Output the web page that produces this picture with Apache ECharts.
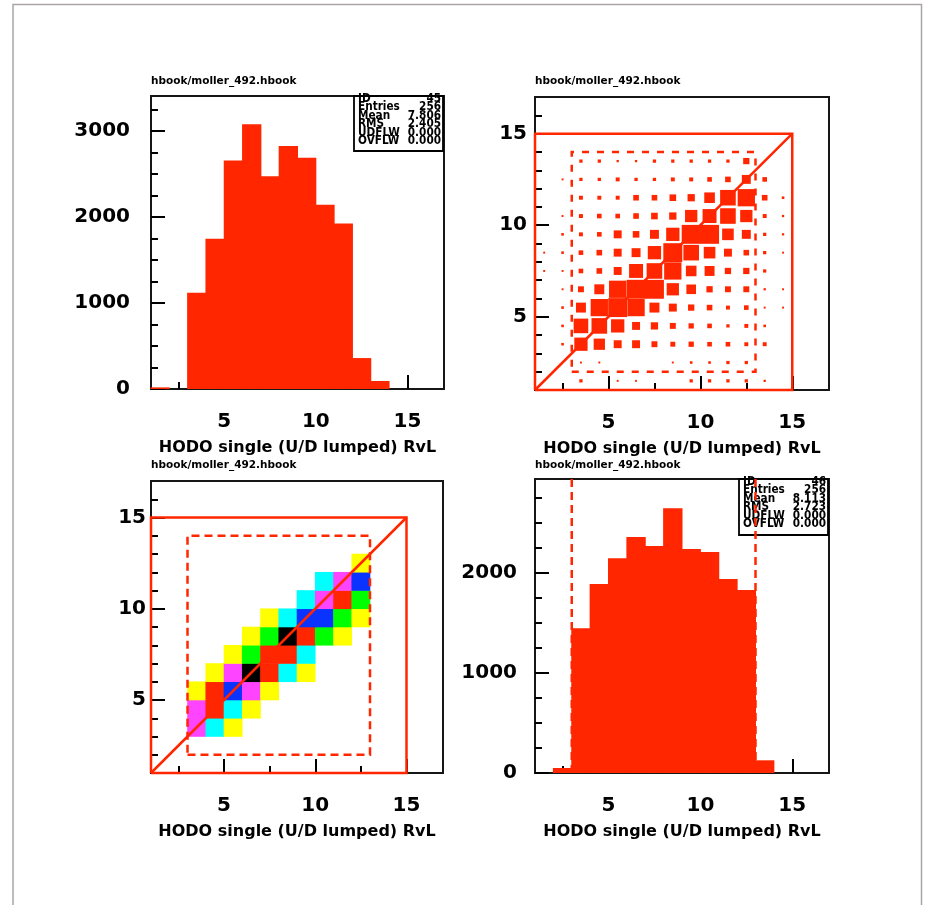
<!DOCTYPE html>
<html>
<head>
<meta charset="utf-8">
<title>HODO single (U/D lumped) RvL</title>
<script src="https://cdn.jsdelivr.net/npm/echarts@6/dist/echarts.min.js"></script>
<style>
  html, body { margin: 0; padding: 0; background: #ffffff; }
  #c { width: 925px; height: 905px; }
</style>
</head>
<body>
<div id="c"></div>
<script>
// ---------------- data ----------------
const fileTitle = 'hbook/moller_492.hbook';
const axisTitle = 'HODO single (U/D lumped) RvL';

// 1D histogram ID 45: bin lower edges (bin width 1) and contents
const h45Lo     = [1, 3, 4, 5, 6, 7, 8, 9, 10, 11, 12, 13];
const h45Counts = [19, 1120, 1748, 2659, 3081, 2477, 2829, 2690, 2143, 1926, 360, 93];
// 1D histogram ID 46
const h46Lo     = [2, 3, 4, 5, 6, 7, 8, 9, 10, 11, 12, 13];
const h46Counts = [50, 1447, 1890, 2147, 2360, 2270, 2647, 2240, 2210, 1940, 1830, 127];
const binWidth = 1;

// statistics boxes
const stats45 = [['ID', '45'], ['Entries', '256'], ['Mean', '7.806'], ['RMS', '2.405'], ['UDFLW', '0.000'], ['OVFLW', '0.000']];
const stats46 = [['ID', '46'], ['Entries', '256'], ['Mean', '8.113'], ['RMS', '2.723'], ['UDFLW', '0.000'], ['OVFLW', '0.000']];

// 2D histogram (box display): one row per y bin (1..13), columns are x bins 1..14
const boxRows = [
  [0, 0, 136, 0, 68, 68, 0, 0, 136, 136, 136, 136, 85, 0],
  [0, 0, 68, 68, 0, 0, 0, 68, 102, 102, 136, 136, 0, 0],
  [0, 102, 646, 544, 374, 374, 272, 221, 238, 204, 204, 170, 170, 0],
  [0, 102, 714, 765, 646, 374, 340, 272, 238, 204, 136, 170, 102, 0],
  [0, 102, 476, 850, 935, 850, 476, 374, 289, 255, 170, 204, 68, 68],
  [0, 68, 272, 476, 850, 935, 935, 595, 459, 289, 272, 272, 85, 68],
  [68, 68, 204, 255, 374, 680, 765, 850, 510, 476, 289, 289, 136, 0],
  [68, 102, 204, 255, 374, 425, 646, 935, 765, 561, 374, 255, 136, 68],
  [0, 102, 170, 204, 374, 306, 425, 646, 935, 935, 561, 425, 136, 85],
  [0, 68, 170, 204, 204, 255, 306, 340, 595, 680, 765, 595, 170, 85],
  [0, 0, 170, 170, 170, 255, 255, 306, 340, 510, 765, 850, 255, 102],
  [0, 68, 136, 136, 170, 136, 136, 170, 170, 204, 255, 425, 204, 0],
  [0, 0, 136, 136, 85, 85, 136, 136, 136, 136, 136, 289, 0, 0]
];
const boxMax = 935;

// 2D histogram (colour display): [x bin, y bin, contents]
const colCells = [
  [3, 3, 730], [4, 3, 540], [5, 3, 410],
  [3, 4, 750], [4, 4, 900], [5, 4, 570], [6, 4, 380],
  [3, 5, 420], [4, 5, 890], [5, 5, 830], [6, 5, 760], [7, 5, 430],
  [4, 6, 420], [5, 6, 740], [6, 6, 950], [7, 6, 910], [8, 6, 560], [9, 6, 400],
  [5, 7, 390], [6, 7, 650], [7, 7, 880], [8, 7, 900], [9, 7, 530],
  [6, 8, 410], [7, 8, 640], [8, 8, 945], [9, 8, 885], [10, 8, 630], [11, 8, 380],
  [7, 9, 400], [8, 9, 580], [9, 9, 840], [10, 9, 850], [11, 9, 620], [12, 9, 410],
  [9, 10, 560], [10, 10, 710], [11, 10, 880], [12, 10, 640],
  [10, 11, 530], [11, 11, 760], [12, 11, 820],
  [12, 12, 420]
];
const colLevels = [300, 500, 600, 680, 780, 860, 930];
const colColours = ['#ffff00', '#00ffff', '#00ff00', '#ff44ff', '#0a33ff', '#ff2600', '#000000'];

// cut windows drawn on the 2D plots and the projection
const acceptWindow = [1, 15];
const fiducialX = [3, 13];
const fiducialY = [2, 14];

// axis ranges and tick values
const xRange = [1, 17];
const yRange2D = [1, 17];
const yMax45 = 3410;
const yMax46 = 2940;
const xMajor = [5, 10, 15];
const xMinor = [2.5, 7.5, 12.5];
const y2DMajor = [5, 10, 15];
const y2DMinor = [2, 3, 4, 6, 7, 8, 9, 11, 12, 13, 14, 16];
const y45Major = [0, 1000, 2000, 3000];
const y45Minor = [250, 500, 750, 1250, 1500, 1750, 2250, 2500, 2750, 3250];
const y46Major = [0, 1000, 2000];
const y46Minor = [250, 500, 750, 1250, 1500, 1750, 2250, 2500, 2750];

// ---------------- styling ----------------
const RED = '#ff2600';
const INK = '#000000';
const FONT = 'DejaVu Sans';

const panels = [
  { left: 151, top: 96, width: 293, height: 293 },   // ID 45
  { left: 535, top: 97, width: 294, height: 293 },   // 2D boxes
  { left: 151, top: 481, width: 292, height: 292 },  // 2D colour
  { left: 535, top: 479, width: 294, height: 294 }   // ID 46
];
const yLabelMargin = [21, 8, 5, 18];

const grids = [];
panels.forEach(p => {
  grids.push(Object.assign({ show: true, borderColor: '#161616', borderWidth: 2, backgroundColor: 'transparent' }, p));
  grids.push(Object.assign({ show: false }, p));
});

function axisPair(gridMain, range, major, minor, labelMargin, isX) {
  const main = {
    type: 'value', gridIndex: gridMain, min: range[0], max: range[1],
    position: isX ? 'bottom' : 'left',
    axisLine: { show: false },
    splitLine: { show: false },
    axisTick: { show: true, inside: true, length: 14, customValues: major, lineStyle: { color: INK, width: 2 } },
    axisLabel: {
      show: true, customValues: major, margin: labelMargin,
      formatter: v => String(v),
      fontSize: 20, fontWeight: 'bold', fontFamily: FONT, color: INK
    }
  };
  if (isX) {
    main.name = axisTitle;
    main.nameLocation = 'middle';
    main.nameGap = 51;
    main.nameTextStyle = { fontSize: 16, fontWeight: 'bold', fontFamily: FONT, color: INK };
  }
  const minorAxis = {
    type: 'value', gridIndex: gridMain + 1, min: range[0], max: range[1],
    position: isX ? 'bottom' : 'left',
    axisLine: { show: false },
    splitLine: { show: false },
    axisTick: { show: true, inside: true, length: 7, customValues: minor, lineStyle: { color: INK, width: 2 } },
    axisLabel: { show: false }
  };
  return [main, minorAxis];
}

const xAxes = [], yAxes = [];
const yRanges = [[0, yMax45], yRange2D, yRange2D, [0, yMax46]];
const yMajors = [y45Major, y2DMajor, y2DMajor, y46Major];
const yMinors = [y45Minor, y2DMinor, y2DMinor, y46Minor];
panels.forEach((p, i) => {
  xAxes.push(...axisPair(2 * i, xRange, xMajor, xMinor, 23, true));
  yAxes.push(...axisPair(2 * i, yRanges[i], yMajors[i], yMinors[i], yLabelMargin[i], false));
});

// ---------------- series helpers ----------------
// bins are drawn with a small overlap so neighbouring bars fuse without seams
function histSeries(axisIdx, lo, counts) {
  return {
    type: 'custom', xAxisIndex: axisIdx, yAxisIndex: axisIdx, z: 2, silent: true,
    data: lo.map((x, i) => [x, x + binWidth, counts[i]]),
    encode: { x: [0, 1], y: 2 },
    renderItem(params, api) {
      const p0 = api.coord([api.value(0), api.value(2)]);
      const p1 = api.coord([api.value(1), 0]);
      return {
        type: 'rect',
        shape: { x: p0[0] - 0.5, y: p0[1], width: p1[0] - p0[0] + 1, height: p1[1] - p0[1] },
        style: { fill: RED }
      };
    }
  };
}

function lineSeries(axisIdx, pts, dash, width) {
  return {
    type: 'line', xAxisIndex: axisIdx, yAxisIndex: axisIdx, z: 4, silent: true,
    clip: false, symbol: 'none', animation: false,
    data: pts,
    lineStyle: { color: RED, width: width, type: dash || 'solid', cap: 'butt', join: 'miter' }
  };
}

function windowLines(axisIdx, dash) {
  const a = acceptWindow, fx = fiducialX, fy = fiducialY;
  return [
    lineSeries(axisIdx, [[a[0], a[0]], [a[1], a[0]], [a[1], a[1]], [a[0], a[1]], [a[0], a[0]]], null, 2.5),
    lineSeries(axisIdx, [[a[0], a[0]], [a[1], a[1]]], null, 2.5),
    lineSeries(axisIdx, [[fx[0], fy[0]], [fx[1], fy[0]], [fx[1], fy[1]], [fx[0], fy[1]], [fx[0], fy[0]]], dash, 2.5)
  ];
}

const boxData = [];
boxRows.forEach((row, r) => row.forEach((n, c) => { if (n > 0) boxData.push([c + 1, r + 1, n]); }));

const series = [];
// ID 45 projection
series.push(histSeries(0, h45Lo, h45Counts));
// 2D box display
series.push({
  type: 'custom', xAxisIndex: 2, yAxisIndex: 2, z: 2, silent: true,
  data: boxData, encode: { x: 0, y: 1 },
  renderItem(params, api) {
    const c = api.coord([api.value(0) + 0.5, api.value(1) + 0.5]);
    const s = api.size([1, 1]);
    const f = api.value(2) / boxMax;
    const w = s[0] * f + 0.6, h = s[1] * f + 0.6;
    return { type: 'rect', shape: { x: c[0] - w / 2, y: c[1] - h / 2, width: w, height: h }, style: { fill: RED } };
  }
});
series.push(...windowLines(2, [7, 8]));
// 2D colour display
const colSeriesIndex = series.length;
series.push({
  type: 'custom', xAxisIndex: 4, yAxisIndex: 4, z: 2, silent: true,
  data: colCells, encode: { x: 0, y: 1 },
  renderItem(params, api) {
    const p0 = api.coord([api.value(0), api.value(1) + 1]);
    const p1 = api.coord([api.value(0) + 1, api.value(1)]);
    return {
      type: 'rect',
      shape: { x: p0[0] - 0.3, y: p0[1] - 0.3, width: p1[0] - p0[0] + 0.6, height: p1[1] - p0[1] + 0.6 },
      style: { fill: api.visual('color') }
    };
  }
});
series.push(...windowLines(4, [8, 5]));
// ID 46 projection with the x window
series.push(histSeries(6, h46Lo, h46Counts));
series.push(lineSeries(6, [[fiducialX[0], 0], [fiducialX[0], yMax46]], [8, 5], 2.5));
series.push(lineSeries(6, [[fiducialX[1], 0], [fiducialX[1], yMax46]], [8, 5], 2.5));

const pieces = colLevels.map((lo, i) => {
  const p = { gte: lo, color: colColours[i] };
  if (i < colLevels.length - 1) p.lt = colLevels[i + 1];
  return p;
});

// ---------------- statistics boxes and page frame ----------------
function statsBox(x, y, w, h, rows) {
  const lineY = [3, 11.2, 19.6, 28, 36.4, 44.8];
  const font = 'bold 10.5px "' + FONT + '"';
  const children = [{
    type: 'rect', shape: { x: x, y: y, width: w, height: h },
    style: { fill: '#ffffff', stroke: INK, lineWidth: 1.8 }
  }];
  rows.forEach((r, i) => {
    children.push({
      type: 'text', x: x + 4, y: y + lineY[i], scaleY: 1.2,
      style: { text: r[0], fill: INK, font: font, align: 'left', verticalAlign: 'middle' }
    });
    children.push({
      type: 'text', x: x + w - 2, y: y + lineY[i], scaleY: 1.2,
      style: { text: r[1], fill: INK, font: font, align: 'right', verticalAlign: 'middle' }
    });
  });
  return { type: 'group', z: 1, children: children };
}

const graphic = [
  {
    type: 'polyline', z: 0,
    shape: { points: [[13, 905], [13, 4.5], [921.5, 4.5], [921.5, 905]] },
    style: { stroke: '#aaa5a5', lineWidth: 1.5, fill: null }
  },
  statsBox(354, 96, 89, 55, stats45),
  statsBox(739, 479, 89, 56, stats46)
];

const titles = [
  { left: 151, top: 76 }, { left: 535, top: 76 },
  { left: 151, top: 460 }, { left: 535, top: 460 }
].map(pos => ({
  text: fileTitle, left: pos.left, top: pos.top, padding: 0,
  textStyle: { fontSize: 10.5, fontWeight: 'bold', fontFamily: FONT, color: INK }
}));

const chart = echarts.init(document.getElementById('c'), null, { renderer: 'canvas' });
chart.setOption({
  animation: false,
  backgroundColor: '#ffffff',
  title: titles,
  grid: grids,
  xAxis: xAxes,
  yAxis: yAxes,
  visualMap: [{ type: 'piecewise', show: false, seriesIndex: colSeriesIndex, dimension: 2, pieces: pieces }],
  graphic: graphic,
  series: series
});
</script>
</body>
</html>
